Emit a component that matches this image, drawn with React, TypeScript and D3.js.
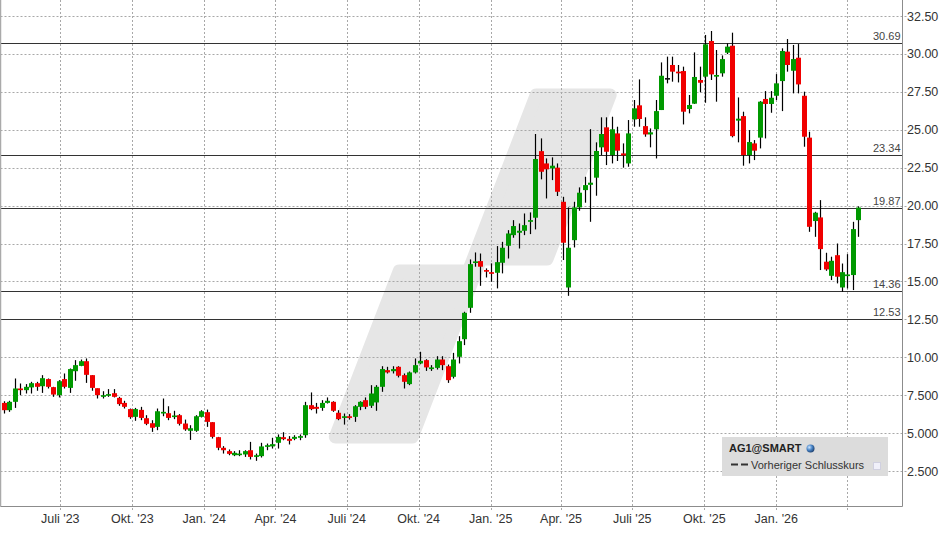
import React from "react";
import * as d3 from "d3";

// ---- data (weekly candles) ----
const startDate = new Date(2023, 3, 20);

const open = [
  6.99, 6.51, 7.06, 7.94, 7.83, 8.01, 8.29, 8.09, 8.56, 8.03,
  7.5, 8.56, 7.98, 9.08, 9.43, 9.74, 8.82, 7.96, 7.39, 7.46,
  7.63, 7.32, 6.99, 6.58, 6.07, 6.53, 5.98, 5.65, 5.41, 6.29,
  6.31, 6.07, 6.18, 5.63, 5.15, 5.15, 6.07, 6.38, 5.72, 4.73,
  4.03, 3.81, 3.54, 3.56, 3.59, 3.87, 3.43, 3.48, 4.09, 4.12,
  4.36, 4.73, 4.62, 4.62, 4.69, 4.86, 6.84, 6.73, 6.66, 6.99,
  7.06, 6.34, 6.0, 6.11, 6.07, 6.73, 7.17, 6.8, 7.02, 8.05,
  9.15, 9.08, 9.37, 8.82, 8.23, 9.0, 9.59, 9.81, 9.22, 9.3,
  9.85, 9.41, 8.71, 10.03, 11.19, 13.26, 16.23, 16.34, 15.75, 15.61,
  15.57, 16.23, 17.35, 18.05, 18.21, 18.34, 18.93, 19.2, 23.59, 22.78,
  22.45, 22.5, 20.25, 14.6, 17.72, 19.88, 21.02, 21.37, 21.84, 23.84,
  25.16, 23.33, 24.76, 23.44, 22.78, 25.68, 26.61, 25.24, 24.69, 25.03,
  26.3, 28.41, 29.27, 28.83, 28.87, 26.37, 26.72, 28.28, 28.5, 30.85,
  28.5, 28.72, 30.08, 30.54, 25.6, 25.9, 23.33, 24.1, 24.48, 27.03,
  26.7, 27.24, 28.21, 30.15, 28.89, 29.75, 27.24, 24.48, 18.98, 19.22,
  16.3, 15.37, 16.73, 14.6, 15.35, 15.42, 19.04,
];
const close = [
  6.51, 7.06, 7.94, 7.83, 8.05, 8.29, 8.05, 8.62, 8.05, 7.54,
  8.42, 8.05, 9.22, 9.48, 9.74, 8.84, 7.98, 7.5, 7.5, 7.57,
  7.39, 6.91, 6.73, 6.05, 6.58, 6.0, 5.61, 5.35, 6.44, 6.4,
  6.0, 6.16, 5.61, 5.24, 5.32, 6.11, 6.44, 5.74, 4.75, 4.03,
  3.87, 3.63, 3.7, 3.65, 3.81, 3.43, 3.54, 4.12, 4.2, 4.27,
  4.75, 4.6, 4.49, 4.75, 4.8, 6.84, 6.58, 6.6, 6.99, 7.13,
  6.47, 5.92, 6.11, 6.0, 6.77, 7.06, 6.73, 7.61, 8.05, 9.22,
  9.0, 9.22, 8.78, 8.38, 9.0, 9.48, 9.76, 9.33, 9.33, 9.85,
  9.48, 8.49, 9.85, 11.06, 12.93, 16.14, 16.32, 15.97, 15.64, 15.5,
  16.27, 17.22, 18.16, 18.65, 18.34, 18.71, 19.04, 23.07, 22.23, 22.39,
  22.63, 20.91, 17.55, 17.22, 19.88, 20.85, 21.35, 21.51, 23.6, 24.72,
  23.55, 25.03, 23.62, 23.31, 24.76, 26.41, 25.71, 24.69, 24.83, 26.23,
  28.56, 28.41, 28.83, 28.72, 26.19, 26.63, 28.48, 28.1, 30.63, 28.65,
  28.61, 29.66, 30.48, 24.58, 25.73, 23.33, 24.19, 23.62, 26.85, 26.7,
  27.11, 28.06, 30.19, 29.27, 29.66, 27.99, 24.54, 18.6, 19.53, 17.13,
  15.79, 16.36, 15.31, 15.61, 15.46, 18.45, 19.87,
];
const high = [
  7.1, 7.13, 8.6, 8.27, 8.23, 8.38, 8.38, 8.82, 8.6, 8.05,
  8.49, 8.93, 9.26, 9.81, 9.85, 9.92, 8.82, 7.94, 7.76, 7.9,
  7.9, 7.39, 7.13, 6.62, 6.66, 6.73, 6.18, 5.85, 6.62, 7.28,
  6.77, 6.47, 6.25, 5.89, 5.52, 6.18, 6.51, 6.55, 5.72, 4.75,
  4.14, 3.92, 3.81, 3.87, 3.87, 4.42, 3.65, 4.36, 4.31, 4.69,
  4.91, 5.06, 4.8, 4.86, 4.91, 7.06, 7.68, 6.99, 7.17, 7.35,
  7.1, 6.51, 6.29, 6.25, 6.84, 7.1, 7.35, 8.16, 8.16, 9.41,
  9.37, 9.41, 9.41, 8.93, 9.06, 9.92, 10.36, 9.87, 9.48, 10.07,
  10.07, 9.52, 10.29, 11.39, 13.0, 16.45, 16.91, 16.84, 15.86, 16.19,
  17.33, 17.61, 18.38, 19.04, 18.82, 19.48, 19.55, 24.72, 24.43, 23.11,
  23.18, 22.78, 20.58, 19.88, 20.25, 21.2, 21.9, 25.04, 24.17, 25.82,
  25.82, 25.86, 25.2, 24.1, 25.64, 26.96, 28.32, 25.82, 25.09, 26.96,
  29.44, 29.82, 29.82, 29.27, 29.16, 27.29, 30.1, 29.16, 31.25, 31.51,
  30.26, 29.9, 30.7, 31.4, 27.13, 26.19, 24.98, 24.32, 26.89, 27.55,
  27.55, 28.67, 30.37, 30.98, 30.59, 30.65, 27.51, 24.87, 19.59, 20.36,
  16.89, 16.63, 17.5, 16.18, 16.8, 18.93, 19.95,
];
const low = [
  6.29, 6.4, 6.66, 7.5, 7.61, 7.61, 7.79, 7.65, 7.94, 7.39,
  7.35, 7.94, 7.65, 8.45, 9.41, 8.31, 7.79, 7.28, 7.28, 7.39,
  7.35, 6.8, 6.62, 5.94, 5.81, 5.85, 5.52, 5.08, 5.19, 6.11,
  5.85, 5.92, 5.5, 5.15, 4.55, 5.08, 6.03, 5.41, 4.64, 3.87,
  3.65, 3.54, 3.48, 3.48, 3.43, 3.26, 3.17, 3.39, 3.87, 3.98,
  3.98, 4.53, 4.25, 4.53, 4.53, 4.69, 6.51, 6.29, 6.47, 6.95,
  6.4, 5.85, 5.56, 5.89, 5.74, 6.51, 6.58, 6.66, 6.47, 7.72,
  8.93, 8.93, 8.67, 7.94, 8.16, 8.93, 9.54, 9.1, 9.1, 9.19,
  9.15, 8.31, 8.6, 9.59, 10.8, 12.93, 15.97, 14.71, 15.26, 14.98,
  14.54, 15.53, 16.51, 17.88, 17.17, 18.05, 18.12, 18.43, 21.73, 20.47,
  21.68, 20.63, 16.41, 14.05, 17.24, 19.66, 20.19, 18.93, 20.65, 23.33,
  22.67, 22.78, 22.94, 22.5, 22.56, 25.2, 25.2, 24.54, 23.84, 23.11,
  26.3, 28.06, 28.17, 28.12, 25.35, 26.08, 26.7, 27.47, 26.78, 28.28,
  26.85, 28.5, 29.99, 24.5, 24.17, 22.63, 22.78, 23.0, 23.77, 24.43,
  26.12, 26.96, 26.23, 28.83, 27.4, 27.4, 23.88, 18.27, 17.94, 15.75,
  15.7, 15.09, 14.87, 14.32, 14.54, 14.43, 17.94,
];

const levels = [30.69, 23.34, 19.87, 14.36, 12.53];
const levelLabels = ["30.69", "23.34", "19.87", "14.36", "12.53"];

const yTicks = [32.5, 30, 27.5, 25, 22.5, 20, 17.5, 15, 12.5, 10, 7.5, 5, 2.5];
const yTickLabels = ["32.50", "30.00", "27.50", "25.00", "22.50", "20.00", "17.50", "15.00", "12.50", "10.00", "7.500", "5.000", "2.500"];

const xTickDates = [
  new Date(2023, 6, 1), new Date(2023, 9, 1), new Date(2024, 0, 1), new Date(2024, 3, 1),
  new Date(2024, 6, 1), new Date(2024, 9, 1), new Date(2025, 0, 1), new Date(2025, 3, 1),
  new Date(2025, 6, 1), new Date(2025, 9, 1), new Date(2026, 0, 1), new Date(2026, 3, 1),
];
const xTickLabels = [
  "Juli '23", "Okt. '23", "Jan. '24", "Apr. '24", "Juli '24", "Okt. '24",
  "Jan. '25", "Apr. '25", "Juli '25", "Okt. '25", "Jan. '26", "",
];

const legendTitle = "AG1@SMART";
const legendItem = "Vorheriger Schlusskurs";

// ---- layout ----
const W = 948;
const H = 534;
const plotLeft = 0.5;
const plotRight = 902.5;
const plotTop = 0;
const plotBottom = 506.5;
const FONT = "'Liberation Sans', Arial, Helvetica, sans-serif";

const x = d3
  .scaleTime()
  .domain([new Date(2023, 6, 1), new Date(2026, 3, 1)])
  .range([60.3, 846.7]);
const y = d3.scaleLinear().domain([2.5, 32.5]).range([471, 16]);

const candles = open.map((o, i) => ({
  date: d3.timeDay.offset(startDate, 7 * i),
  o,
  c: close[i],
  h: high[i],
  l: low[i],
}));

// watermark polygon (decoration)
function watermarkPath() {
  const s = 0.385;
  const h = 6.5;
  const pts: [number, number][] = [
    [532 - s * 6 + h, 95],
    [619 - s * 6 - h, 95],
    [619 - s * 170 - h, 259],
    [485 + s * 6 - h, 259],
    [485 - s * 172 - h, 437],
    [395 - s * 172 + h, 437],
    [395 - s * 6 + h, 271],
    [532 - s * 182 + h, 271],
  ];
  return d3.line()(pts) + "Z";
}

export default function App() {
  const bodyW = 5;
  return (
    <svg
      width={W}
      height={H}
      style={{ position: "fixed", left: 0, top: 0, background: "#fff" }}
      fontFamily={FONT}
    >
      <rect x={0} y={0} width={W} height={H} fill="#fff" />
      {/* watermark */}
      <path
        d={watermarkPath()}
        fill="#e6e6e6"
        stroke="#e6e6e6"
        strokeWidth={13}
        strokeLinejoin="round"
      />
      {/* grid */}
      {yTicks.map((t, i) => (
        <line
          key={"gy" + i}
          x1={plotLeft}
          x2={plotRight + 4}
          y1={Math.round(y(t)) + 0.5}
          y2={Math.round(y(t)) + 0.5}
          stroke="#a8a8a8"
          strokeDasharray="2,2"
        />
      ))}
      {xTickDates.map((d, i) => (
        <line
          key={"gx" + i}
          x1={Math.round(x(d)) + 0.5}
          x2={Math.round(x(d)) + 0.5}
          y1={plotTop}
          y2={plotBottom + 4}
          stroke="#a8a8a8"
          strokeDasharray="2,2"
        />
      ))}
      {/* level lines */}
      {levels.map((v, i) => (
        <g key={"lv" + i}>
          <line
            x1={plotLeft}
            x2={plotRight}
            y1={Math.round(y(v)) + 0.5}
            y2={Math.round(y(v)) + 0.5}
            stroke="#333"
            strokeWidth={1.2}
          />
          <text
            x={plotRight - 2}
            y={Math.round(y(v)) - 3}
            textAnchor="end"
            fontSize={11}
            fill="#444"
          >
            {levelLabels[i]}
          </text>
        </g>
      ))}
      {/* candles */}
      {candles.map((c, i) => {
        const cx = Math.round(x(c.date)) + 0.5;
        const top = y(Math.max(c.o, c.c));
        const bot = y(Math.min(c.o, c.c));
        const hgt = Math.max(bot - top, 1.6);
        const col = c.c > c.o ? "#009900" : c.c < c.o ? "#f00000" : "#111";
        return (
          <g key={"c" + i}>
            <line x1={cx} x2={cx} y1={y(c.h)} y2={y(c.l)} stroke="#000" strokeWidth={1.2} />
            <rect x={cx - bodyW / 2} y={top} width={bodyW} height={hgt} fill={col} />
          </g>
        );
      })}
      {/* axes */}
      <line x1={plotLeft} x2={plotLeft} y1={plotTop} y2={plotBottom} stroke="#aaa" strokeWidth={1.5} />
      <line x1={plotRight} x2={plotRight} y1={plotTop} y2={plotBottom} stroke="#8c8c8c" />
      <line x1={plotLeft} x2={plotRight} y1={plotBottom} y2={plotBottom} stroke="#8c8c8c" />
      {yTicks.map((t, i) => (
        <text key={"yl" + i} x={907} y={y(t) + 4.5} fontSize={12.5} fill="#333">
          {yTickLabels[i]}
        </text>
      ))}
      {xTickDates.map((d, i) => (
        <text key={"xl" + i} x={x(d)} y={523} fontSize={12.5} fill="#333" textAnchor="middle">
          {xTickLabels[i]}
        </text>
      ))}
      {/* legend */}
      <defs>
        <radialGradient id="globe" cx="35%" cy="35%" r="70%">
          <stop offset="0%" stopColor="#cfe6ff" />
          <stop offset="50%" stopColor="#4a86c8" />
          <stop offset="100%" stopColor="#1d3f6e" />
        </radialGradient>
      </defs>
      <rect x={722} y={437} width={166} height={39} fill="#dcdcdc" />
      <text x={729} y={452} fontSize={11} fontWeight="bold" fill="#222">
        {legendTitle}
      </text>
      <circle cx={810.5} cy={448.5} r={4} fill="url(#globe)" />
      <line x1={731} x2={748} y1={464.5} y2={464.5} stroke="#333" strokeWidth={2} strokeDasharray="7,3" />
      <text x={751} y={469} fontSize={11} fill="#333">
        {legendItem}
      </text>
      <rect x={873.5} y={462.5} width={7} height={7} fill="#f0f0fa" stroke="#d0d0e0" />
    </svg>
  );
}
